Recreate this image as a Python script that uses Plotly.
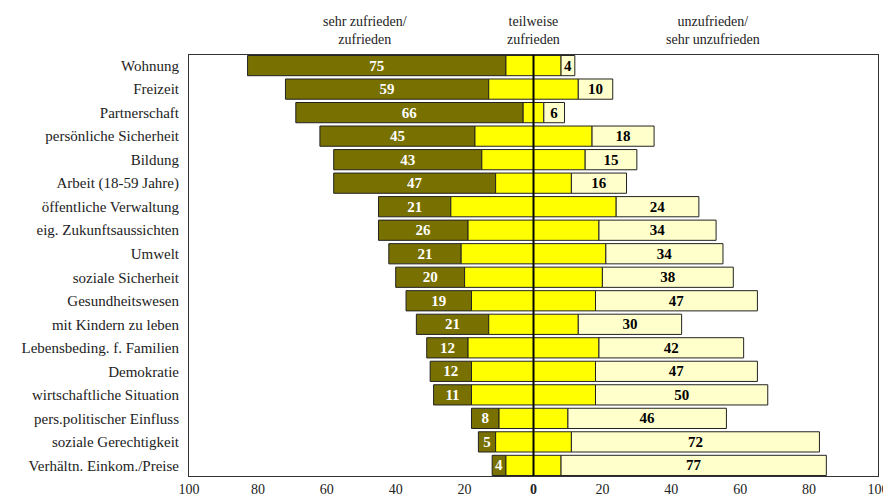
import plotly.graph_objects as go

categories = ["Wohnung", "Freizeit", "Partnerschaft", "persönliche Sicherheit", "Bildung",
              "Arbeit (18-59 Jahre)", "öffentliche Verwaltung", "eig. Zukunftsaussichten",
              "Umwelt", "soziale Sicherheit", "Gesundheitswesen", "mit Kindern zu leben",
              "Lebensbeding. f. Familien", "Demokratie", "wirtschaftliche Situation",
              "pers.politischer Einfluss", "soziale Gerechtigkeit", "Verhältn. Einkom./Preise"]
zufrieden = [75, 59, 66, 45, 43, 47, 21, 26, 21, 20, 19, 21, 12, 12, 11, 8, 5, 4]
teilweise = [16, 26, 6, 34, 30, 22, 48, 38, 42, 40, 36, 26, 38, 36, 36, 20, 22, 16]
unzufrieden = [4, 10, 6, 18, 15, 16, 24, 34, 34, 38, 47, 30, 42, 47, 50, 46, 72, 77]
tick_values = [-100, -80, -60, -40, -20, 0, 20, 40, 60, 80, 100]
tick_labels = ["100", "80", "60", "40", "20", "<b>0</b>", "20", "40", "60", "80", "100"]
headers = ["sehr zufrieden/<br>zufrieden", "teilweise<br>zufrieden", "unzufrieden/<br>sehr unzufrieden"]
header_x = [-49, 0, 52]

SERIF = "Liberation Serif, Times New Roman, serif"
DARK = "#787000"
YEL = "#FFFF00"
LIGHT = "#FFFFCC"
EDGE = "#222222"

half = [t / 2 for t in teilweise]

fig = go.Figure()
# dark: sehr zufrieden / zufrieden (left)
fig.add_trace(go.Bar(
    y=categories, x=zufrieden, base=[-h - z for h, z in zip(half, zufrieden)],
    orientation="h", marker=dict(color=DARK, line=dict(color=EDGE, width=1)),
    text=[f"<b>{v}</b>" for v in zufrieden], textposition="inside", textangle=0,
    insidetextanchor="middle", constraintext="none",
    textfont=dict(family=SERIF, size=15, color="white"), hoverinfo="skip"))
# teilweise left half
fig.add_trace(go.Bar(
    y=categories, x=half, base=[-h for h in half], orientation="h",
    marker=dict(color=YEL, line=dict(color=EDGE, width=1)), hoverinfo="skip"))
# teilweise right half
fig.add_trace(go.Bar(
    y=categories, x=half, base=[0 for h in half], orientation="h",
    marker=dict(color=YEL, line=dict(color=EDGE, width=1)), hoverinfo="skip"))
# unzufrieden (right)
fig.add_trace(go.Bar(
    y=categories, x=unzufrieden, base=half, orientation="h",
    marker=dict(color=LIGHT, line=dict(color=EDGE, width=1)),
    text=[f"<b>{v}</b>" for v in unzufrieden], textposition="inside", textangle=0,
    insidetextanchor="middle", constraintext="none",
    textfont=dict(family=SERIF, size=15, color="black"), hoverinfo="skip"))

fig.add_shape(type="line", xref="x", yref="paper", x0=0, x1=0, y0=0, y1=1,
              line=dict(color="black", width=2), layer="above")

for txt, xv in zip(headers, header_x):
    fig.add_annotation(x=xv, xref="x", y=1, yref="paper", yanchor="bottom",
                       yshift=6, text=txt, showarrow=False,
                       font=dict(family=SERIF, size=14, color="#222"))

bg = 0.14
# page body adds an 8px offset, so the figure is 8px smaller on each axis
fig.update_layout(
    width=883, height=493, barmode="overlay", bargap=bg, showlegend=False,
    margin=dict(l=181, r=13, t=47, b=25, autoexpand=False),
    paper_bgcolor="white", plot_bgcolor="white",
    font=dict(family=SERIF, size=14, color="#222"),
    xaxis=dict(range=[-100, 100], tickvals=tick_values, ticktext=tick_labels,
               showgrid=False, zeroline=False, showline=True, mirror=True,
               linecolor="#333", linewidth=1, ticks="", automargin=False,
               tickfont=dict(family=SERIF, size=14, color="#222")),
    yaxis=dict(range=[len(categories) - 0.5 - bg / 2 + 0.02, -0.5 + bg / 2 - 0.02],
               showgrid=False, zeroline=False, showline=True, mirror=True,
               linecolor="#333", linewidth=1, ticks="", ticklabelstandoff=6,
               automargin=False,
               tickfont=dict(family=SERIF, size=15, color="#222")),
)

fig.write_html("out.html")
